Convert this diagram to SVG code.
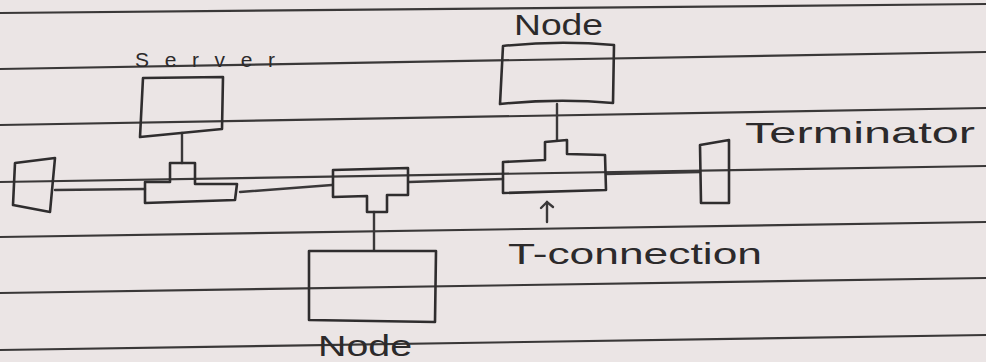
<svg xmlns="http://www.w3.org/2000/svg" width="986" height="362" viewBox="0 0 986 362">
<style>
.paper{fill:#ebe5e5}
.rule{stroke:#3a3838;stroke-width:2.2;fill:none}
.ink{stroke:#2f2d2e;stroke-width:2.6;fill:none;stroke-linejoin:round;stroke-linecap:round}
.wire{stroke:#3a3839;stroke-width:2.4;fill:none;stroke-linecap:round}
.lbl{font-family:"Liberation Sans","DejaVu Sans",sans-serif;fill:#2c2a2b}
</style>
<rect class="paper" x="0" y="0" width="986" height="362"/>
<g id="ruled-lines">
<line class="rule" x1="0" y1="13" x2="986" y2="4"/>
<line class="rule" x1="0" y1="69" x2="986" y2="52"/>
<line class="rule" x1="0" y1="125" x2="986" y2="108"/>
<line class="rule" x1="0" y1="182" x2="986" y2="166"/>
<line class="rule" x1="0" y1="237" x2="986" y2="222"/>
<line class="rule" x1="0" y1="293" x2="986" y2="278"/>
<line class="rule" x1="0" y1="350" x2="986" y2="335"/>
</g>
<g id="connectors">
<line class="wire" x1="55" y1="190" x2="145" y2="189"/>
<line class="wire" x1="240" y1="192" x2="332" y2="185"/>
<line class="wire" x1="409" y1="182" x2="503" y2="179"/>
<line class="wire" x1="606" y1="174" x2="700" y2="172"/>
<line class="wire" x1="182" y1="133" x2="182" y2="163"/>
<line class="wire" x1="557" y1="104" x2="557" y2="140"/>
<line class="wire" x1="374" y1="212" x2="374" y2="250"/>
<line class="wire" x1="547" y1="222" x2="547" y2="202"/>
<path class="wire" d="M541,208 L547,202 L553,207"/>
</g>
<g id="terminator-left">
<path class="ink" d="M15,163 L55,158 L50,212 L13,205 Z"/>
</g>
<g id="server">
<path class="ink" d="M143,78 L223,77 L222,129 L140,137 Z"/>
<text class="lbl" x="135" y="67" font-size="21" textLength="140" lengthAdjust="spacing">Server</text>
</g>
<g id="t-connector-1">
<path class="ink" d="M145,182 L170,182 L170,163 L195,163 L195,184 L237,184 L235,200 L145,203 Z"/>
</g>
<g id="t-connector-2">
<path class="ink" d="M333,170 L408,168 L408,195 L387,195 L387,212 L367,212 L367,196 L333,197 Z"/>
</g>
<g id="node-bottom">
<path class="ink" d="M309,251 L436,251 L435,322 L309,320 Z"/>
<text class="lbl" x="318" y="356" font-size="29" textLength="94" lengthAdjust="spacingAndGlyphs">Node</text>
</g>
<g id="node-top">
<path class="ink" d="M503,46 Q558,40 614,45 L613,103 Q558,98 500,104 Z"/>
<text class="lbl" x="514" y="35" font-size="29" textLength="89" lengthAdjust="spacingAndGlyphs">Node</text>
</g>
<g id="t-connector-3">
<path class="ink" d="M545,142 L567,140 L567,154 L605,155 L606,190 L503,193 L503,162 L545,160 Z"/>
</g>
<g id="terminator-right">
<path class="ink" d="M700,145 L729,140 L729,203 L701,203 Z"/>
<text class="lbl" x="745" y="143" font-size="29" textLength="230" lengthAdjust="spacingAndGlyphs">Terminator</text>
</g>
<g id="t-connection-label">
<text class="lbl" x="508" y="264" font-size="29" textLength="254" lengthAdjust="spacingAndGlyphs">T-connection</text>
</g>
</svg>
